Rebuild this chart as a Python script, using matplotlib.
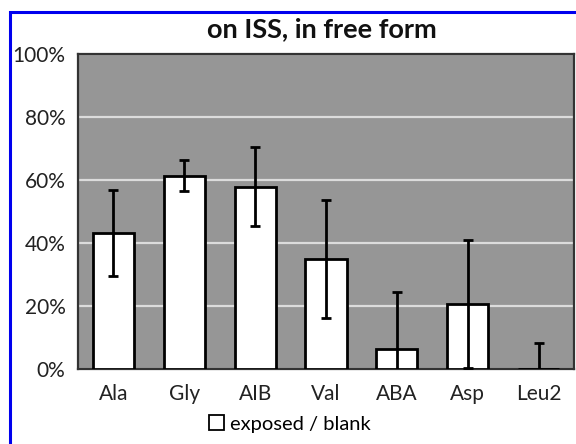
import matplotlib
matplotlib.use("Agg")
import matplotlib.pyplot as plt
from matplotlib.patches import Rectangle
import numpy as np

categories = ["Ala", "Gly", "AIB", "Val", "ABA", "Asp", "Leu2"]
values = [43.2, 61.4, 57.9, 34.9, 6.3, 20.6, 0.0]
errors = [13.6, 4.9, 12.6, 18.6, 18.2, 20.2, 8.3]
yticks = [0, 20, 40, 60, 80, 100]
ytick_labels = ["0%", "20%", "40%", "60%", "80%", "100%"]
title = "on ISS, in free form"
legend_label = "exposed / blank"

plt.rcParams['font.family'] = ['Lato', 'DejaVu Sans']

W, H = 576, 444
fig = plt.figure(figsize=(W / 100, H / 100), dpi=100)
fig.patch.set_facecolor("white")

# blue frame (left and top edges visible)
fig.add_artist(Rectangle((10 / W, -0.1), 1.2, (H - 12) / H + 0.1,
                         transform=fig.transFigure, fill=False,
                         edgecolor="#0000ee", linewidth=2.2))

ax = fig.add_axes([78 / W, (H - 369) / H, (574 - 78) / W, (369 - 54) / H])
ax.set_facecolor("#969696")
x = np.arange(len(categories))
ax.bar(x, values, width=0.58, color="white", edgecolor="black", linewidth=2, zorder=3)
ax.errorbar(x, values, yerr=errors, fmt="none", ecolor="black", elinewidth=2,
            capsize=3.6, capthick=2, zorder=4)
ax.set_xlim(-0.5, len(categories) - 0.5)
ax.set_ylim(0, 100)
ax.set_yticks(yticks)
ax.set_yticklabels(ytick_labels)
ax.set_xticks(x)
ax.set_xticklabels(categories)
ax.tick_params(axis="both", length=0, labelsize=15, colors="#222222")
ax.tick_params(axis="x", pad=11)
ax.tick_params(axis="y", pad=9)
ax.yaxis.grid(True, color="#dcdcdc", linewidth=1.6, zorder=1)
ax.set_axisbelow(True)
for s in ax.spines.values():
    s.set_color("#333333")
    s.set_linewidth(1.6)

fig.text(322 / W, 1 - 29 / H, title, ha="center", va="center",
         fontsize=19.5, fontweight="bold", color="#111111")

handle = Rectangle((0, 0), 1, 1, facecolor="white", edgecolor="black", linewidth=1.3)
fig.legend([handle], [legend_label], loc="center", bbox_to_anchor=(290 / W, 1 - 424 / H),
           frameon=False, fontsize=14.5, handlelength=0.75, handleheight=0.75,
           handletextpad=0.3, borderpad=0)

fig.savefig("out.png", dpi=100)
